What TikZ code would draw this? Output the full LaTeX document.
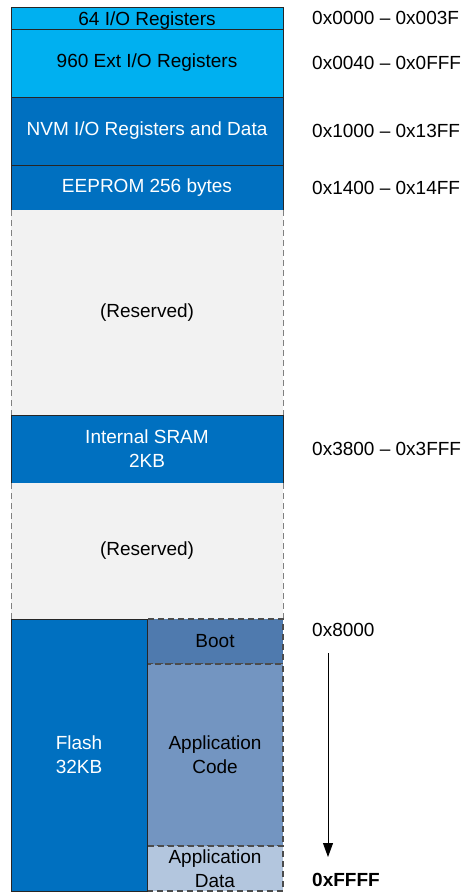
\documentclass[tikz,border=0pt]{standalone}
\usepackage{fontspec}
\setmainfont{Liberation Sans}
\usetikzlibrary{chains,positioning,arrows.meta}
\definecolor{ioblue}{HTML}{00B0F0}
\definecolor{memblue}{HTML}{0070C0}
\definecolor{resgray}{HTML}{F2F2F2}
\definecolor{bootblue}{HTML}{4F7AAE}
\definecolor{codeblue}{HTML}{7395C1}
\definecolor{datablue}{HTML}{B3C6DE}

\begin{document}
\begin{tikzpicture}[x=1pt, y=1pt, font=\fontsize{19}{24}\selectfont,
    blk/.style={rectangle, draw=black!85, line width=0.8pt, outer sep=0pt,
      inner sep=0pt, minimum width=272pt, align=center},
    res/.style={rectangle, fill=resgray, outer sep=0pt, inner sep=0pt,
      minimum width=272pt, align=center},
    part/.style={rectangle, draw=black!70, dash pattern=on 6pt off 4pt,
      line width=1.2pt, outer sep=0pt, inner sep=0pt, minimum width=136pt,
      align=center},
    resline/.style={draw=black!50, dash pattern=on 6pt off 4pt, line width=0.8pt},
    addr/.style={anchor=west, inner sep=0pt},
    >={Triangle[length=14pt,width=10pt]}, start chain=going below,
    node distance=0pt]
  \useasboundingbox (0,0) rectangle (464,-892);
  % memory map column
  \node[blk, on chain, fill=ioblue, minimum height=22pt, text height=16pt,
    text depth=2pt, anchor=north west] (io) at (11,-7) {64 I/O Registers};
  \node[blk, on chain, fill=ioblue, minimum height=68pt] (ext) {960 Ext I/O Registers};
  \node[blk, on chain, fill=memblue, text=white, minimum height=68pt] (nvm)
    {NVM I/O Registers and Data};
  \node[blk, on chain, fill=memblue, text=white, minimum height=45pt] (eep)
    {EEPROM 256 bytes};
  \node[res, on chain, minimum height=205pt] (resA) {(Reserved)};
  \node[blk, on chain, fill=memblue, text=white, minimum height=68pt] (sram)
    {Internal SRAM\\2KB};
  \node[res, on chain, minimum height=136pt] (resB) {(Reserved)};
  \draw[resline] (resA.north west) -- (resA.south west)
    (resA.north east) -- (resA.south east);
  \draw[resline] (resB.north west) -- (resB.south west)
    (resB.north east) -- (resB.south east);
  % flash sections
  \node[part, fill=bootblue, minimum height=45pt, anchor=north west] (boot)
    at (resB.south) {Boot};
  \node[part, fill=codeblue, minimum height=182pt, below=of boot] (code)
    {Application\\Code};
  \node[part, fill=datablue, minimum height=45pt, below=of code] (data)
    {Application\\Data};
  \node[blk, fill=memblue, text=white, minimum width=136pt, minimum height=272pt,
    anchor=north west] (flash) at (resB.south west) {Flash\\32KB};
  % addresses
  \node[addr, right=29pt of io] (a0000) {0x0000 \textendash{} 0x003F};
  \node[addr, right=29pt of ext] (a0040) {0x0040 \textendash{} 0x0FFF};
  \node[addr, right=29pt of nvm] (a1000) {0x1000 \textendash{} 0x13FF};
  \node[addr, right=29pt of eep] (a1400) {0x1400 \textendash{} 0x14FF};
  \node[addr, right=29pt of sram] (a3800) {0x3800 \textendash{} 0x3FFF};
  \node[addr] (a8000) at ([xshift=29pt,yshift=-11pt]boot.north east) {0x8000};
  \node[addr, font=\fontsize{19}{24}\selectfont\bfseries] (aFFFF)
    at ([xshift=29pt,yshift=11pt]data.south east) {0xFFFF};
  \draw[->, line width=0.8pt] ([xshift=16pt,yshift=-23pt]a8000.west)
    -- ([xshift=16pt,yshift=23pt]aFFFF.west);
\end{tikzpicture}
\end{document}
